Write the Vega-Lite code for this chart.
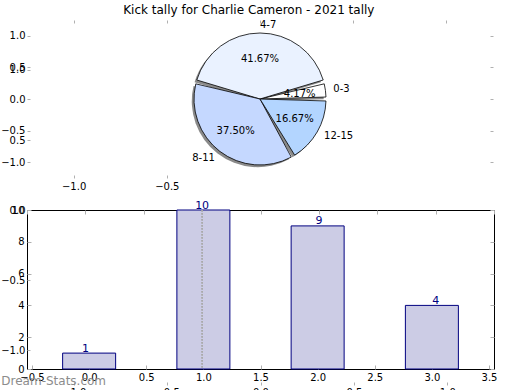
{
  "$schema": "https://vega.github.io/schema/vega-lite/v6.json",
  "padding": {"left": 0, "top": 3, "right": 0, "bottom": 0},
  "background": "white",
  "title": {"text": "Kick tally for Charlie Cameron - 2021 tally", "fontSize": 12, "fontWeight": "normal", "font": "DejaVu Sans", "anchor": "middle", "offset": 3, "color": "#000"},
  "datasets": {
    "kicks": [
      {"range": "0-3", "count": 1, "pct": "4.17%", "pos": 0},
      {"range": "4-7", "count": 10, "pct": "41.67%", "pos": 1},
      {"range": "8-11", "count": 9, "pct": "37.50%", "pos": 2},
      {"range": "12-15", "count": 4, "pct": "16.67%", "pos": 3}
    ]
  },
  "config": {
    "font": "DejaVu Sans",
    "axis": {"labelFont": "DejaVu Sans", "labelFontSize": 10, "labelColor": "#000", "tickColor": "#b0b0b0", "grid": false, "domain": false},
    "concat": {"spacing": 32}
  },
  "bounds": "flush",
  "vconcat": [
    {
      "width": 466,
      "height": 158,
      "view": {"stroke": null},
      "data": {"name": "kicks"},
      "encoding": {
        "theta": {"field": "count", "type": "quantitative", "stack": true, "scale": {"range": [1.309, 7.5922]}},
        "order": {"field": "count", "type": "quantitative", "sort": "ascending"}
      },
      "layer": [
        {
          "mark": {"type": "arc", "outerRadius": 66, "padAngle": 0.06, "fill": "#8a8a8a", "stroke": null},
          "encoding": {
            "x": {"datum": -0.012, "type": "quantitative", "scale": {"domain": [-1.25, 1.25], "nice": false}, "axis": {"orient": "top", "values": [-1, -0.5, 0, 0.5, 1], "labels": false, "tickSize": -3, "title": null}},
            "y": {"datum": -0.035, "type": "quantitative", "scale": {"domain": [-1.25, 1.25], "nice": false}, "axis": {"orient": "right", "values": [-1, -0.5, 0, 0.5, 1], "labels": false, "tickSize": -3, "title": null}}
          }
        },
        {
          "mark": {"type": "arc", "outerRadius": 66, "padAngle": 0.06, "stroke": "#000", "strokeWidth": 0.8},
          "encoding": {
            "x": {"datum": 0, "type": "quantitative", "scale": {"domain": [-1.25, 1.25], "nice": false}, "axis": {"orient": "bottom", "values": [-1, -0.5], "format": ".1f", "tickSize": -3, "labelPadding": 6, "title": null}},
            "y": {"datum": 0, "type": "quantitative", "scale": {"domain": [-1.25, 1.25], "nice": false}, "axis": {"orient": "left", "values": [-1, -0.5, 0, 0.5, 1], "format": ".1f", "tickSize": -3, "labelPadding": 5, "title": null}},
            "color": {"field": "range", "type": "nominal", "scale": {"domain": ["0-3", "4-7", "8-11", "12-15"], "range": ["#ffffff", "#eaf2ff", "#c5d8ff", "#b3d5ff"]}, "legend": null}
          }
        },
        {
          "mark": {"type": "point", "opacity": 0},
          "encoding": {
            "y": {"datum": 1, "type": "quantitative", "scale": {"domain": [0.2286, 1.3571], "nice": false, "zero": false}, "axis": {"orient": "left", "values": [0.5, 1], "format": ".1f", "tickSize": -3, "labelPadding": 5, "title": null}}
          }
        },
        {
          "mark": {"type": "text", "radius": 40, "fontSize": 10, "color": "#000"},
          "encoding": {"text": {"field": "pct", "type": "nominal"}}
        },
        {
          "mark": {"type": "text", "radius": 74, "fontSize": 10, "align": "left", "baseline": "middle", "color": "#000"},
          "encoding": {"text": {"field": "range", "type": "nominal", "condition": {"test": "datum.range === '8-11'", "value": ""}}}
        },
        {
          "mark": {"type": "text", "radius": 74, "fontSize": 10, "align": "right", "baseline": "middle", "color": "#000"},
          "encoding": {"text": {"field": "range", "type": "nominal", "condition": {"test": "datum.range !== '8-11'", "value": ""}}}
        }
      ],
      "resolve": {"scale": {"y": "independent"}, "axis": {"x": "independent", "y": "independent"}}
    },
    {
      "width": 467,
      "height": 159,
      "view": {"stroke": "#000", "strokeWidth": 1},
      "data": {"name": "kicks"},
      "layer": [
        {
          "mark": {"type": "bar", "size": 53, "fill": "#ccccE5", "stroke": "#000080", "strokeWidth": 1},
          "encoding": {
            "x": {"field": "pos", "type": "quantitative", "scale": {"domain": [-0.5, 3.5], "nice": false, "zero": false}, "axis": {"orient": "bottom", "values": [-0.5, 0, 0.5, 1, 1.5, 2, 2.5, 3, 3.5], "format": ".1f", "tickSize": -4, "labelPadding": 7, "title": null}},
            "y": {"field": "count", "type": "quantitative", "scale": {"domain": [0, 10], "nice": false}, "axis": {"orient": "left", "values": [0, 2, 4, 6, 8, 10], "tickSize": -4, "labelPadding": 7, "title": null}}
          }
        },
        {
          "mark": {"type": "rule", "strokeDash": [1.5, 1.5], "color": "#aaaaaa"},
          "encoding": {
            "x": {"datum": 1, "type": "quantitative", "scale": {"domain": [-0.5, 3.5], "nice": false, "zero": false}, "axis": {"orient": "top", "values": [-0.5, 0, 0.5, 1, 1.5, 2, 2.5, 3, 3.5], "labels": false, "tickSize": -4, "title": null}}
          }
        },
        {
          "mark": {"type": "text", "color": "#000080", "fontSize": 11, "baseline": "alphabetic", "dy": -1.5},
          "encoding": {
            "x": {"field": "pos", "type": "quantitative", "scale": {"domain": [-0.5, 3.5], "nice": false, "zero": false}, "axis": null},
            "y": {"field": "count", "type": "quantitative", "scale": {"domain": [0, 10], "nice": false}, "axis": {"orient": "right", "values": [0, 2, 4, 6, 8, 10], "labels": false, "tickSize": -4, "title": null}},
            "text": {"field": "count", "type": "quantitative"}
          }
        },
        {
          "mark": {"type": "point", "opacity": 0},
          "encoding": {
            "x": {"datum": 0, "type": "quantitative", "scale": {"domain": [-1.25, 1.25], "nice": false}, "axis": {"orient": "bottom", "offset": 16, "values": [-1, -0.5, 0, 0.5, 1], "format": ".1f", "tickSize": -3, "labelPadding": 5, "title": null}},
            "y": {"datum": -0.5, "type": "quantitative", "scale": {"domain": [-1.1357, 0], "nice": false, "zero": false}, "axis": {"orient": "left", "values": [0, -0.5, -1], "format": ".1f", "tickSize": -3, "labelPadding": 5, "title": null}}
          }
        },
        {
          "data": {"values": [{"site": "Dream-Stats.com"}]},
          "mark": {"type": "text", "color": "#8c8c8c", "fontSize": 12, "align": "left", "baseline": "middle"},
          "encoding": {
            "x": {"datum": -0.72, "type": "quantitative", "scale": {"domain": [-0.5, 3.5], "nice": false, "zero": false}, "axis": null},
            "y": {"datum": -0.74, "type": "quantitative", "scale": {"domain": [0, 10], "nice": false}, "axis": null},
            "text": {"field": "site", "type": "nominal"}
          }
        }
      ],
      "resolve": {"scale": {"x": "independent", "y": "independent"}, "axis": {"x": "independent", "y": "independent"}}
    }
  ]
}
